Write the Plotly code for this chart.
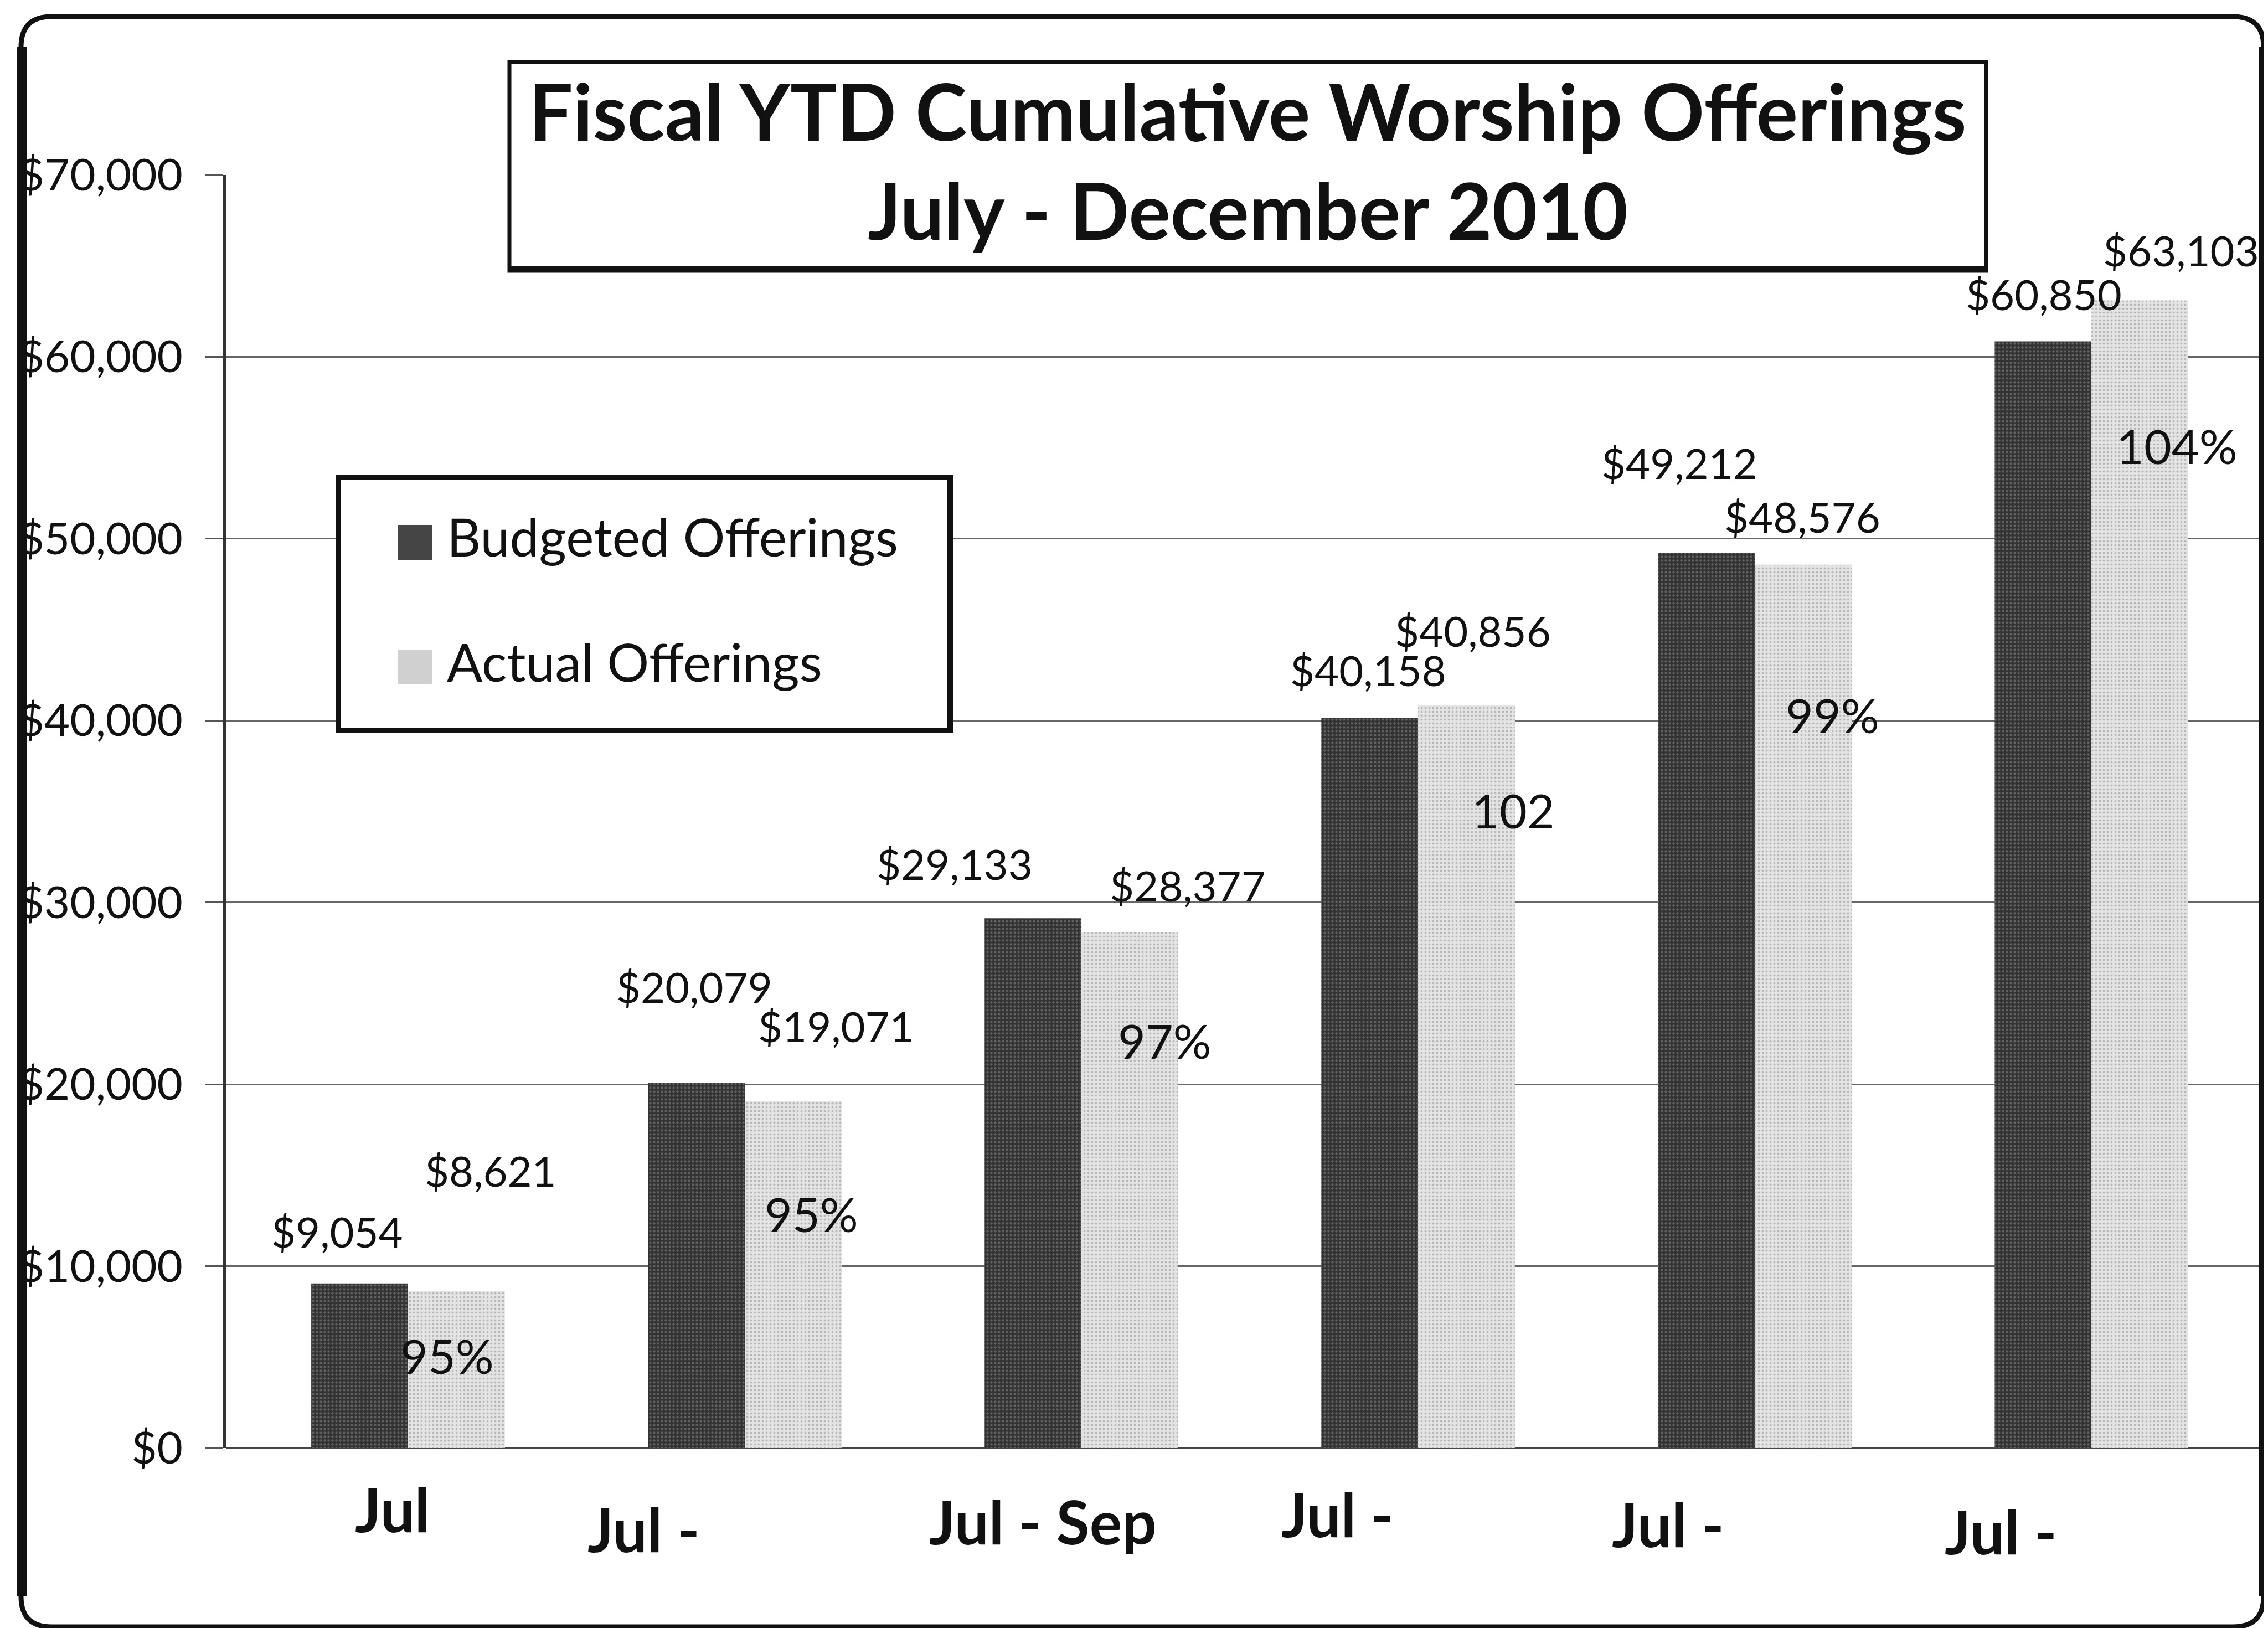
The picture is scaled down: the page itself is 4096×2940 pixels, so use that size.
import plotly.graph_objects as go

# ---------------- data ----------------
x_labels = ["Jul", "Jul -", "Jul - Sep", "Jul -", "Jul -", "Jul -"]
budget = [9054, 20079, 29133, 40158, 49212, 60850]
actual = [8621, 19071, 28377, 40856, 48576, 63103]
pct_labels = ["95%", "95%", "97%", "102", "99%", "104%"]
y_ticks = [0, 10000, 20000, 30000, 40000, 50000, 60000, 70000]
y_tick_text = [f"${v:,}" for v in y_ticks]

# label placement (hand-placed in the original chart)
budget_lbl_dx = [-0.21, -0.149, -0.376, -0.148, -0.224, -0.142]
budget_lbl_dy = [2878, 5296, 3003, 2637, 4958, 2627]
actual_lbl_dx = [0.245, 0.271, 0.315, 0.162, 0.141, 0.266]
actual_lbl_dy = [6652, 4156, 2566, 4087, 2651, 2761]
pct_lbl_dx = [0.116, 0.198, 0.247, 0.282, 0.231, 0.253]
pct_lbl_y = [5091, 12886, 22432, 35079, 40329, 55125]
xlab_dx = [-0.047, -0.30, -0.115, -0.24, -0.258, -0.27]
xlab_Y = [2716, 2752, 2738, 2725, 2743, 2756]

# ---------------- layout geometry (output pixels) ----------------
W, H = 4096, 2940
PL, PR, PT, PB = 400, 4072, 308, 2607
FONT = "Lato"


def px(X):
    return (X - PL) / (PR - PL)


def py(Y):
    return (PB - Y) / (PB - PT)


xs = list(range(len(budget)))
DARK = "#333333"
LIGHT = "#e4e4e4"

fig = go.Figure()
fig.add_trace(go.Bar(
    x=xs, y=budget, name="Budgeted Offerings",
    marker=dict(color=DARK, line=dict(width=0),
                pattern=dict(shape=".", fgcolor="#909090", size=7, solidity=0.3, fillmode="overlay")),
    showlegend=False,
))
fig.add_trace(go.Bar(
    x=xs, y=actual, name="Actual Offerings",
    marker=dict(color=LIGHT, line=dict(width=0),
                pattern=dict(shape=".", fgcolor="#8c8c8c", size=7, solidity=0.25, fillmode="overlay")),
    showlegend=False,
))

annotations = []
C = dict(xanchor="center", yanchor="middle", showarrow=False)
for i in xs:
    annotations.append(dict(x=i + budget_lbl_dx[i], y=budget[i] + budget_lbl_dy[i], xref="x", yref="y",
                            text=f"${budget[i]:,}", font=dict(family=FONT, size=76, color="#111"), **C))
    annotations.append(dict(x=i + actual_lbl_dx[i], y=actual[i] + actual_lbl_dy[i], xref="x", yref="y",
                            text=f"${actual[i]:,}", font=dict(family=FONT, size=76, color="#111"), **C))
    annotations.append(dict(x=i + pct_lbl_dx[i], y=pct_lbl_y[i], xref="x", yref="y",
                            text=pct_labels[i], font=dict(family=FONT, size=86, color="#111"), **C))
    annotations.append(dict(x=i + xlab_dx[i], y=py(xlab_Y[i]), xref="x", yref="paper",
                            text=f"<b>{x_labels[i]}</b>", font=dict(family=FONT, size=110, color="#111"), **C))

# title
annotations.append(dict(x=px(2245), y=py(191), xref="paper", yref="paper",
                        text="<b>Fiscal YTD Cumulative Worship Offerings</b>",
                        font=dict(family=FONT, size=141, color="#111"), **C))
annotations.append(dict(x=px(2245), y=py(371), xref="paper", yref="paper",
                        text="<b>July - December 2010</b>",
                        font=dict(family=FONT, size=141, color="#111"), **C))
# legend text
annotations.append(dict(x=px(797), y=py(960), xref="paper", yref="paper", xanchor="left", yanchor="middle",
                        text="Budgeted Offerings", showarrow=False,
                        font=dict(family=FONT, size=95, color="#111")))
annotations.append(dict(x=px(797), y=py(1186), xref="paper", yref="paper", xanchor="left", yanchor="middle",
                        text="Actual Offerings", showarrow=False,
                        font=dict(family=FONT, size=95, color="#111")))

shapes = []
# outer rounded border
L, R, T, B, r = 30, 4080, 22, 2930, 55
path = (f"M {px(L+r)},{py(T)} L {px(R-r)},{py(T)} Q {px(R)},{py(T)} {px(R)},{py(T+r)} "
        f"L {px(R)},{py(B-r)} Q {px(R)},{py(B)} {px(R-r)},{py(B)} "
        f"L {px(L+r)},{py(B)} Q {px(L)},{py(B)} {px(L)},{py(B-r)} "
        f"L {px(L)},{py(T+r)} Q {px(L)},{py(T)} {px(L+r)},{py(T)} Z")
shapes.append(dict(type="path", xref="paper", yref="paper", path=path,
                   line=dict(color="#111", width=9), layer="below"))
shapes.append(dict(type="line", xref="paper", yref="paper", x0=px(L + 2), x1=px(L + 2), y0=py(T + r), y1=py(B - r),
                   line=dict(color="#111", width=18), layer="below"))
shapes.append(dict(type="line", xref="paper", yref="paper", x0=px(R - 2), x1=px(R - 2), y0=py(T + r), y1=py(B - r),
                   line=dict(color="#111", width=13), layer="below"))
# title box
shapes.append(dict(type="rect", xref="paper", yref="paper", x0=px(912), x1=px(3579), y0=py(104), y1=py(481),
                   line=dict(color="#111", width=7), fillcolor="white", layer="above"))
shapes.append(dict(type="line", xref="paper", yref="paper", x0=px(912), x1=px(3579), y0=py(478), y1=py(478),
                   line=dict(color="#111", width=11), layer="above"))
# legend box
shapes.append(dict(type="rect", xref="paper", yref="paper", x0=px(603), x1=px(1708), y0=py(854), y1=py(1311),
                   line=dict(color="#111", width=10), fillcolor="white", layer="above"))
shapes.append(dict(type="rect", xref="paper", yref="paper", x0=px(710), x1=px(773), y0=py(940), y1=py(1003),
                   line=dict(width=0), fillcolor="#454545", layer="above"))
shapes.append(dict(type="rect", xref="paper", yref="paper", x0=px(710), x1=px(773), y0=py(1165), y1=py(1228),
                   line=dict(width=0), fillcolor="#d0d0d0", layer="above"))

fig.update_layout(
    width=W, height=H,
    margin=dict(l=PL, r=W - PR, t=PT, b=H - PB, pad=0),
    paper_bgcolor="white", plot_bgcolor="white",
    barmode="group", bargap=0.425, bargroupgap=0,
    showlegend=False,
    annotations=annotations, shapes=shapes,
    font=dict(family=FONT, color="#111"),
)
fig.update_xaxes(range=[-0.541, 5.498], showticklabels=False, ticks="", showgrid=False,
                 zeroline=False, showline=False)
fig.update_yaxes(range=[0, 70000], tickmode="array", tickvals=y_ticks, ticktext=y_tick_text,
                 tickfont=dict(family=FONT, size=80, color="#111"),
                 ticks="outside", ticklen=32, tickcolor="#555", tickwidth=3,
                 ticklabelstandoff=24,
                 showgrid=True, gridcolor="#666", gridwidth=3,
                 zeroline=True, zerolinecolor="#444", zerolinewidth=4,
                 showline=True, linecolor="#333", linewidth=6)

fig.write_html("out.html")
